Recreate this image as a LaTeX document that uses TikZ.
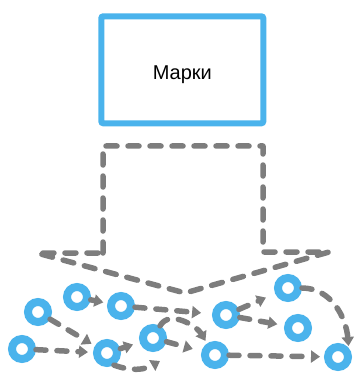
\documentclass[tikz,border=0pt]{standalone}
\usepackage{fontspec}
\setmainfont{Liberation Sans}
\usetikzlibrary{arrows.meta}
\definecolor{ringblue}{RGB}{74,179,236}
\definecolor{dashgray}{RGB}{125,125,125}
\tikzset{
  ring/.style={circle, draw=ringblue, line width=8pt, minimum size=20pt, inner sep=0pt, fill=white},
  flow/.style={draw=dashgray, line width=5.5pt, line cap=round, dash pattern=on 10pt off 11pt,
    -{Triangle[length=9pt,width=12pt]}, shorten >=5pt},
  bigarrow/.style={draw=dashgray, line width=5.5pt, line cap=round, line join=round, dash pattern=on 11pt off 11pt},
  mainbox/.style={draw=ringblue, line width=6pt, rounded corners=2pt, minimum width=162pt, minimum height=107pt,
    font=\fontsize{20}{24}\selectfont, text height=20pt, text depth=0pt},
}
\begin{document}
\begin{tikzpicture}[x=1pt,y=-1pt]
\useasboundingbox (0,0) rectangle (353,374);
\node[mainbox] (m) at (182.3,69.8) {Марки};
\draw[bigarrow] (103,253) -- (103,146) -- (263,146) -- (263,252) -- (329,252) -- (185,293) -- (37,253) -- cycle;
\node[ring] (c1) at (38,312) {};
\node[ring] (c2) at (77,297) {};
\node[ring] (c3) at (121,306) {};
\node[ring] (c4) at (22,349) {};
\node[ring] (c5) at (107,353) {};
\node[ring] (c6) at (153,338) {};
\node[ring] (c7) at (226,315) {};
\node[ring] (c8) at (288,288) {};
\node[ring] (c9) at (298,328) {};
\node[ring] (c10) at (215,355) {};
\node[ring] (c11) at (338,357) {};
\coordinate (e5) at (160,361);
\draw[flow] (c4) -- (c5);
\draw[flow, shorten >=4pt] (c1) -- (c5);
\draw[flow, shorten >=4pt] (c2) -- (c3);
\draw[flow, shorten >=11pt] (c3) -- (c7);
\draw[flow, shorten >=7pt] (c5) -- (c6);
\draw[flow, shorten >=9pt] (c6) -- (c10);
\draw[flow, shorten >=10pt] (c7) -- (c8);
\draw[flow, shorten >=7pt] (c7) -- (c9);
\draw[flow, shorten >=4pt] (c10) -- (c11);
\draw[flow, shorten >=2pt] (c8) to[out=0,in=95] (c11.40);
\draw[flow, shorten >=3pt] (c6.60) to[out=60,in=120] (c10.125);
\draw[flow, shorten >=0pt] (c5.-60) to[out=-20,in=210] (e5);
\end{tikzpicture}
\end{document}
